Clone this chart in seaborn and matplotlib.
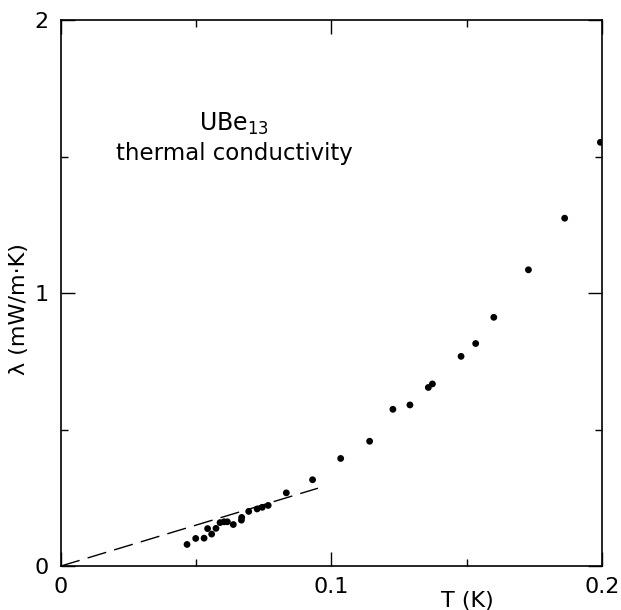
import numpy as np
import pandas as pd
import seaborn as sns
import matplotlib.pyplot as plt

T_K = [0.0466, 0.0498, 0.0529, 0.0542, 0.0557, 0.0573, 0.0588, 0.0603, 0.0615,
       0.0637, 0.0667, 0.0668, 0.0694, 0.0725, 0.0744, 0.0766, 0.0833, 0.0930,
       0.1034, 0.1141, 0.1227, 0.1290, 0.1358, 0.1373, 0.1479, 0.1533, 0.1600,
       0.1728, 0.1862, 0.1994]
lam = [0.079, 0.101, 0.102, 0.137, 0.117, 0.138, 0.159, 0.162, 0.162,
       0.152, 0.168, 0.178, 0.200, 0.209, 0.215, 0.222, 0.268, 0.316,
       0.394, 0.457, 0.574, 0.590, 0.654, 0.667, 0.768, 0.815, 0.911,
       1.085, 1.274, 1.552]

# dashed linear guide
line_T = [0.0, 0.095]
line_lam = [0.0, 0.285]

x_ticks = [0, 0.1, 0.2]
x_labels = ['0', '0.1', '0.2']
y_ticks = [0, 1, 2]
y_labels = ['0', '1', '2']

df = pd.DataFrame({'T': T_K, 'lam': lam})
line_df = pd.DataFrame({'T': line_T, 'lam': line_lam})

sns.set_style("ticks")
plt.rcParams['font.family'] = ['DejaVu Sans']
plt.rcParams['text.color'] = 'black'
plt.rcParams['axes.labelcolor'] = 'black'
plt.rcParams['xtick.color'] = 'black'
plt.rcParams['ytick.color'] = 'black'
plt.rcParams['axes.edgecolor'] = 'black'

fig = plt.figure(figsize=(6.21, 6.10), dpi=100)
ax = fig.add_axes([0.0982, 0.0721, 0.8712, 0.8951])

sns.lineplot(data=line_df, x='T', y='lam', ax=ax, color='black', lw=1.0,
             linestyle=(0, (14, 6)))
sns.scatterplot(data=df, x='T', y='lam', ax=ax, color='black', s=24,
                edgecolor='none')

ax.set_xlim(0, 0.2)
ax.set_ylim(0, 2)
ax.set_xticks(x_ticks, x_labels)
ax.set_yticks(y_ticks, y_labels)
ax.set_xticks([0.05, 0.15], minor=True)
ax.set_yticks([0.5, 1.5], minor=True)

for s in ax.spines.values():
    s.set_visible(True)
    s.set_linewidth(1.2)
    s.set_color('black')
ax.tick_params(which='both', direction='in', top=True, right=True,
               labelsize=16, color='black', width=1.0)
ax.tick_params(which='major', length=10)
ax.tick_params(which='minor', length=5)
ax.tick_params(axis='x', which='major', pad=8)
ax.tick_params(axis='y', which='major', pad=9)

ax.set_xlabel('T (K)', fontsize=16)
ax.set_ylabel('λ (mW/m·K)', fontsize=16)
ax.xaxis.set_label_coords(0.752, -0.045)
ax.yaxis.set_label_coords(-0.06, 0.47)

ax.text(0.32, 0.81, r'UBe$_{13}$', transform=ax.transAxes, ha='center',
        va='center', fontsize=17)
ax.text(0.32, 0.755, 'thermal conductivity', transform=ax.transAxes,
        ha='center', va='center', fontsize=16.5)

fig.savefig('out.png', dpi=100)
